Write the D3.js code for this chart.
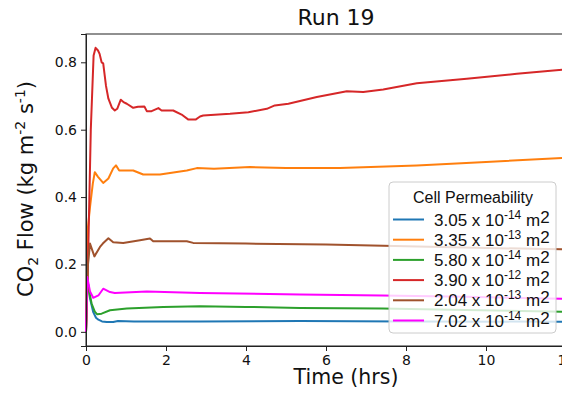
<!DOCTYPE html>
<html>
<head>
<meta charset="utf-8">
<script src="https://cdn.jsdelivr.net/npm/d3@7"></script>
<style>
  body { margin: 0; background: #fff; }
  svg { display: block; }
</style>
</head>
<body>
<div id="chart"></div>
<script>
// series: [time hrs, flow]
const blue = [[0,0],[0.03,0.16],[0.1,0.1],[0.18,0.059],[0.25,0.042],[0.31,0.036],[0.4,0.031],[0.52,0.029],[0.68,0.029],[0.8,0.032],[1.2,0.031],[2.85,0.031],[5.35,0.032],[8,0.031],[11.9,0.030]];
const orange = [[0,0],[0.04,0.3],[0.1,0.37],[0.17,0.44],[0.22,0.474],[0.3,0.46],[0.43,0.442],[0.56,0.455],[0.68,0.485],[0.75,0.494],[0.83,0.479],[1.18,0.479],[1.43,0.467],[1.85,0.467],[2.52,0.479],[2.77,0.486],[3.2,0.484],[4.1,0.489],[5,0.486],[6.35,0.486],[8.27,0.494],[10,0.504],[11.9,0.516]];
const green = [[0,0],[0.03,0.16],[0.08,0.12],[0.14,0.084],[0.22,0.06],[0.28,0.052],[0.39,0.054],[0.6,0.064],[1.02,0.069],[1.93,0.074],[2.85,0.076],[4,0.074],[5.35,0.071],[7.4,0.069],[9.5,0.065],[11.9,0.060]];
const red = [[0,0],[0.04,0.15],[0.12,0.6],[0.19,0.82],[0.24,0.843],[0.3,0.835],[0.34,0.825],[0.39,0.8],[0.43,0.797],[0.5,0.73],[0.56,0.692],[0.65,0.665],[0.72,0.657],[0.78,0.662],[0.87,0.689],[0.95,0.681],[1.02,0.677],[1.18,0.665],[1.3,0.668],[1.46,0.669],[1.52,0.655],[1.64,0.655],[1.81,0.664],[1.89,0.657],[2.18,0.657],[2.39,0.645],[2.56,0.63],[2.74,0.63],[2.85,0.639],[2.93,0.642],[3.6,0.647],[4.06,0.652],[4.52,0.662],[4.72,0.672],[5.06,0.677],[5.77,0.697],[6.52,0.714],[6.93,0.712],[7.43,0.719],[8.27,0.738],[9.52,0.751],[10.77,0.766],[11.9,0.778]];
const brown = [[0,0],[0.05,0.2],[0.1,0.262],[0.21,0.224],[0.35,0.252],[0.42,0.262],[0.56,0.278],[0.68,0.266],[0.93,0.264],[1.35,0.272],[1.6,0.277],[1.68,0.269],[2.52,0.269],[2.68,0.264],[4,0.262],[6,0.259],[8,0.254],[10,0.249],[11.9,0.245]];
const magenta = [[0,0],[0.03,0.163],[0.1,0.12],[0.18,0.101],[0.31,0.108],[0.43,0.128],[0.6,0.118],[0.72,0.115],[1.52,0.12],[2.85,0.115],[5.35,0.111],[7.4,0.108],[9.5,0.104],[11.9,0.098]];

const seriesData = [blue, orange, green, red, brown, magenta];
const seriesColors = ['#1f77b4', '#ff7f0e', '#2ca02c', '#d62728', '#a0522d', '#ff00ff'];
const legendMant = ['3.05', '3.35', '5.80', '3.90', '2.04', '7.02'];
const legendExp = ['-14', '-13', '-14', '-12', '-13', '-14'];
const xTicks = [0, 2, 4, 6, 8, 10, 12];
const yTicks = [0.0, 0.2, 0.4, 0.6, 0.8];

const width = 562, height = 396;
// plot runs past the right edge of the window, as in the original crop
const margin = { top: 34, right: -24, bottom: 50, left: 86 };

const svg = d3.select('#chart').append('svg')
  .attr('width', width).attr('height', height);

const x = d3.scaleLinear().domain([0, 12.5]).range([margin.left, width - margin.right]);
const y = d3.scaleLinear().domain([-0.042, 0.884]).range([height - margin.bottom, margin.top]);

// frame
svg.append('rect')
  .attr('x', margin.left).attr('y', margin.top)
  .attr('width', x(12.5) - margin.left).attr('height', y(-0.042) - margin.top)
  .attr('fill', 'none').attr('stroke', '#222').attr('stroke-width', 1);

const line = d3.line().x(d => x(d[0])).y(d => y(d[1]));
svg.append('g').selectAll('path')
  .data(seriesData)
  .join('path')
  .attr('d', line)
  .attr('fill', 'none')
  .attr('stroke', (d, i) => seriesColors[i])
  .attr('stroke-width', 2)
  .attr('stroke-linejoin', 'round');

// axes
const xAxis = svg.append('g')
  .attr('transform', `translate(0,${y(-0.042)})`)
  .call(d3.axisBottom(x).tickValues(xTicks).tickFormat(d3.format('d')).tickSize(5).tickPadding(4));
const yAxis = svg.append('g')
  .attr('transform', `translate(${margin.left},0)`)
  .call(d3.axisLeft(y).tickValues(yTicks).tickFormat(d3.format('.1f')).tickSize(5).tickPadding(4));
[xAxis, yAxis].forEach(g => {
  g.select('.domain').attr('stroke', '#222');
  g.selectAll('.tick line').attr('stroke', '#222');
  g.selectAll('text').attr('font-family', 'DejaVu Sans').attr('font-size', 14).attr('fill', '#111');
});

// title + labels
svg.append('text')
  .attr('x', 336).attr('y', 25)
  .attr('text-anchor', 'middle')
  .attr('font-family', 'DejaVu Sans').attr('font-size', 22).attr('fill', '#111')
  .text('Run 19');

svg.append('text')
  .attr('x', 346).attr('y', 384)
  .attr('text-anchor', 'middle')
  .attr('font-family', 'DejaVu Sans').attr('font-size', 20.5).attr('fill', '#111')
  .text('Time (hrs)');

const yl = svg.append('text')
  .attr('transform', 'translate(33,189) rotate(-90)')
  .attr('text-anchor', 'middle')
  .attr('font-family', 'DejaVu Sans').attr('font-size', 21).attr('fill', '#111');
yl.append('tspan').text('CO');
yl.append('tspan').attr('font-size', 14).attr('dy', 5).text('2');
yl.append('tspan').attr('dy', -5).text(' Flow (kg m');
yl.append('tspan').attr('font-size', 14).attr('dy', -8).text('-2');
yl.append('tspan').attr('dy', 8).text(' s');
yl.append('tspan').attr('font-size', 14).attr('dy', -8).text('-1');
yl.append('tspan').attr('dy', 8).text(')');

// legend
const lg = svg.append('g');
lg.append('rect')
  .attr('x', 389).attr('y', 182).attr('width', 167).attr('height', 151)
  .attr('rx', 4)
  .attr('fill', 'white').attr('fill-opacity', 0.8)
  .attr('stroke', '#ccc').attr('stroke-width', 1);
lg.append('text')
  .attr('x', 473).attr('y', 203)
  .attr('text-anchor', 'middle')
  .attr('font-family', 'Liberation Sans').attr('font-size', 16).attr('fill', '#111')
  .text('Cell Permeability');
const rows = lg.selectAll('g.row')
  .data(seriesColors)
  .join('g')
  .attr('class', 'row')
  .attr('transform', (d, i) => `translate(0,${219.5 + i * 20.2})`);
rows.append('line')
  .attr('x1', 393).attr('x2', 424)
  .attr('stroke', d => d).attr('stroke-width', 2);
const rt = rows.append('text')
  .attr('x', 434).attr('y', 6)
  .attr('font-family', 'Liberation Sans').attr('font-size', 17).attr('fill', '#111');
rt.append('tspan').text((d, i) => legendMant[i] + ' x 10');
rt.append('tspan').attr('font-size', 12).attr('dy', -7).text((d, i) => legendExp[i]);
rt.append('tspan').attr('dy', 7).text(' m');
rt.append('tspan').attr('dy', -3).text('2');
rt.append('tspan').attr('dy', 3).text('');
</script>
</body>
</html>
